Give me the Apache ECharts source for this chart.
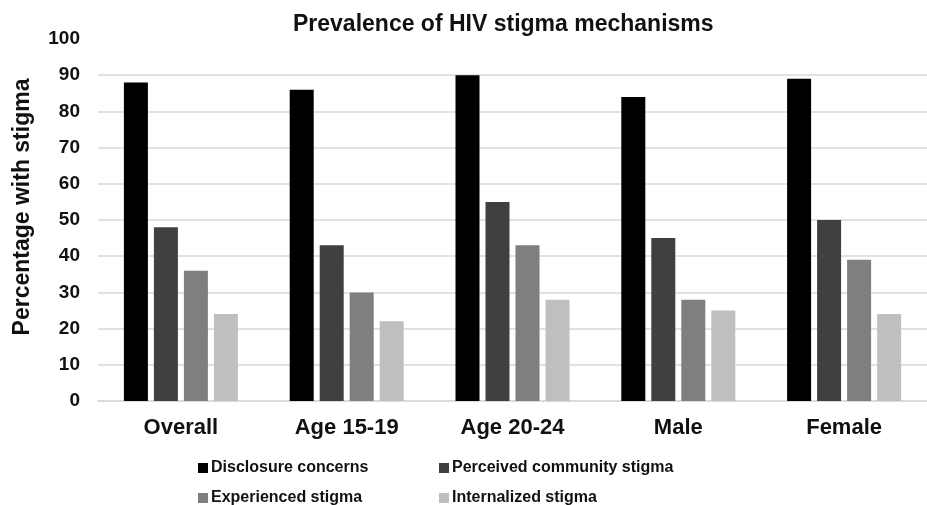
<!DOCTYPE html>
<html>
<head>
<meta charset="utf-8">
<script src="https://cdn.jsdelivr.net/npm/echarts@6/dist/echarts.min.js"></script>
<style>
  html, body { margin: 0; padding: 0; background: #fff; }
  #chart { width: 927px; height: 505px; }
</style>
</head>
<body>
<div id="chart"></div>
<script>
const categories = ['Overall', 'Age 15-19', 'Age 20-24', 'Male', 'Female']
const seriesNames = ['Disclosure concerns', 'Perceived community stigma', 'Experienced stigma', 'Internalized stigma']
const disclosure = [88, 86, 90, 84, 89]
const perceived = [48, 43, 55, 45, 50]
const experienced = [36, 30, 43, 28, 39]
const internalized = [24, 22, 28, 25, 24]
const colors = ['#000000', '#404040', '#7f7f7f', '#bfbfbf']

const font = '"Liberation Sans", Arial, sans-serif'
const chart = echarts.init(document.getElementById('chart'))

const values = [disclosure, perceived, experienced, internalized]
const series = seriesNames.map((name, i) => ({
  name: name,
  type: 'bar',
  data: values[i],
  barWidth: 24,
  barGap: '25%',
  itemStyle: { color: colors[i] },
  emphasis: { disabled: true },
}))

// legend laid out as a 2x2 grid, one legend per item
const legendSpots = [[198, 460], [439, 460], [198, 490], [439, 490]]
const legends = seriesNames.map((name, i) => ({
  data: [name],
  left: legendSpots[i][0],
  top: legendSpots[i][1],
  padding: 0,
  itemWidth: 10,
  itemHeight: 10,
  icon: 'rect',
  selectedMode: false,
  textStyle: { fontFamily: font, fontSize: 16, fontWeight: 'bold', color: '#111', padding: [0, 0, 0, -2] },
}))

chart.setOption({
  animation: false,
  title: {
    text: 'Prevalence of HIV stigma mechanisms',
    left: 288,
    top: 8,
    textStyle: { fontFamily: font, fontSize: 23, fontWeight: 'bold', color: '#111' },
  },
  legend: legends,
  grid: { left: 98, top: 39, width: 839, height: 362 },
  xAxis: {
    type: 'category',
    data: categories,
    axisLine: { lineStyle: { color: '#d9d9d9', width: 1.5 } },
    axisTick: { show: false },
    axisLabel: { fontFamily: font, fontSize: 22, fontWeight: 'bold', color: '#111', margin: 16 },
  },
  yAxis: {
    type: 'value',
    min: 0,
    max: 100,
    interval: 10,
    name: 'Percentage with stigma',
    nameLocation: 'middle',
    nameGap: 64,
    nameTextStyle: { fontFamily: font, fontSize: 23, fontWeight: 'bold', color: '#111', padding: [0, 0, 0, 26] },
    axisLine: { show: false },
    axisTick: { show: false },
    axisLabel: { fontFamily: font, fontSize: 19, fontWeight: 'bold', color: '#111', margin: 18 },
    splitLine: { showMaxLine: false, lineStyle: { color: '#d9d9d9', width: 1.5 } },
  },
  series: series,
})
</script>
</body>
</html>
